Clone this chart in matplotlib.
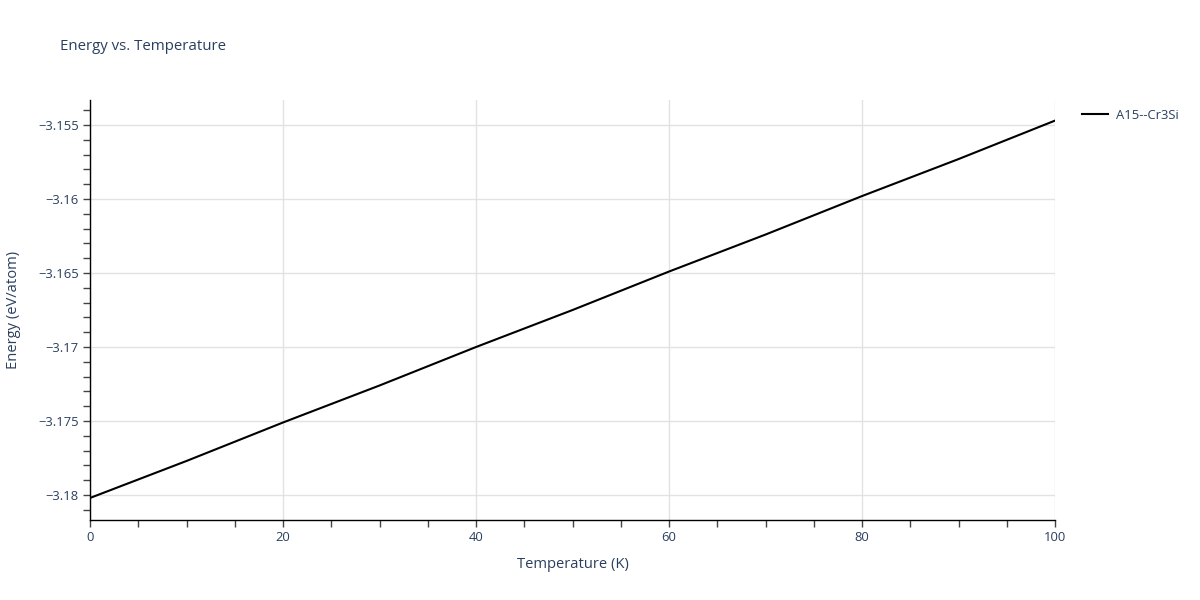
import matplotlib.pyplot as plt
from matplotlib.ticker import MultipleLocator, FuncFormatter
from matplotlib.lines import Line2D

# Energy per atom vs temperature
temperature = [0, 10, 20, 30, 40, 50, 60, 70, 80, 90, 100]
energy = [-3.1802, -3.1777, -3.1751, -3.1726, -3.1700, -3.1675,
          -3.1649, -3.1624, -3.1598, -3.1573, -3.1547]
series_name = "A15--Cr3Si"

text_color = "#2a3f5f"
plt.rcParams["font.family"] = ["Open Sans", "DejaVu Sans"]

fig = plt.figure(figsize=(12, 6), dpi=100)
ax = fig.add_axes([0.075, 0.1333, 0.8042, 0.7])

ax.plot(temperature, energy, color="black", linewidth=1.5)

ax.set_xlim(0, 100)
ax.set_ylim(-3.18169, -3.15331)

ax.xaxis.set_major_locator(MultipleLocator(20))
ax.xaxis.set_minor_locator(MultipleLocator(5))
ax.yaxis.set_major_locator(MultipleLocator(0.005))
ax.yaxis.set_minor_locator(MultipleLocator(0.001))


def fmt(v, pos):
    s = f"{v:.3f}".rstrip("0").rstrip(".")
    return s.replace("-", "\u2212")


ax.yaxis.set_major_formatter(FuncFormatter(fmt))
ax.xaxis.set_major_formatter(FuncFormatter(lambda v, p: f"{v:g}"))

ax.grid(True, which="major", color="#e2e2e2", linewidth=1)
ax.set_axisbelow(True)

for side in ["top", "right"]:
    ax.spines[side].set_visible(False)
for side in ["left", "bottom"]:
    ax.spines[side].set_color("black")
    ax.spines[side].set_linewidth(1)

ax.tick_params(axis="both", which="major", direction="out", length=5, width=1,
               color="#444444", labelsize=9.4, labelcolor=text_color, pad=3)
ax.tick_params(axis="both", which="minor", direction="out", length=5, width=1,
               color="#444444")

ax.set_xlabel("Temperature (K)", fontsize=10.6, color=text_color, labelpad=9)
ax.set_ylabel("Energy (eV/atom)", fontsize=10.6, color=text_color, labelpad=12)

fig.text(0.05, 0.922, "Energy vs. Temperature", fontsize=10.8, color=text_color,
         va="center", ha="left")

handle = Line2D([], [], color="black", linewidth=1.5)
fig.legend([handle], [series_name], loc="upper left", bbox_to_anchor=(0.897, 0.827),
           frameon=False, fontsize=9.4, labelcolor=text_color, handlelength=2.0,
           handletextpad=0.6, borderaxespad=0)

fig.savefig("out.png", dpi=100)
